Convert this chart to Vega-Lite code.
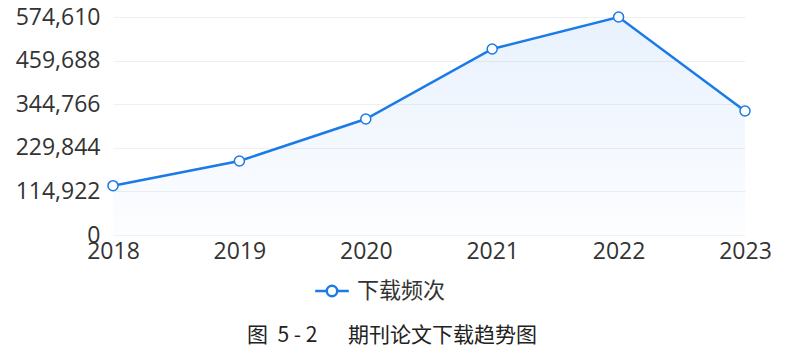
{
  "$schema": "https://vega.github.io/schema/vega-lite/v6.json",
  "width": 632,
  "height": 218,
  "autosize": {"type": "none"},
  "padding": {"left": 113, "top": 17, "right": 40, "bottom": 118},
  "background": "white",
  "config": {
    "view": {"stroke": null},
    "font": "Open Sans"
  },
  "title": {
    "text": "图\u00a0\u00a05\u00a0-\u00a02\u00a0\u00a0\u3000期刊论文下载趋势图",
    "orient": "bottom",
    "anchor": "middle",
    "dx": -37,
    "offset": 23,
    "fontSize": 21,
    "fontWeight": "normal",
    "color": "#222",
    "font": "Noto Sans CJK SC"
  },
  "data": {
    "values": [
      {"year": "2018", "downloads": 130000},
      {"year": "2019", "downloads": 195000},
      {"year": "2020", "downloads": 305800},
      {"year": "2021", "downloads": 490300},
      {"year": "2022", "downloads": 574610},
      {"year": "2023", "downloads": 326900}
    ]
  },
  "encoding": {
    "x": {
      "field": "year",
      "type": "ordinal",
      "scale": {"type": "point", "padding": 0},
      "axis": {
        "title": null,
        "labelAngle": 0,
        "domain": false,
        "ticks": false,
        "labelFont": "Open Sans",
        "labelFontSize": 23,
        "labelColor": "#333",
        "labelPadding": 5,
        "grid": false
      }
    },
    "y": {
      "field": "downloads",
      "type": "quantitative",
      "scale": {"domain": [0, 574610], "nice": false},
      "axis": {
        "title": null,
        "values": [0, 114922, 229844, 344766, 459688, 574610],
        "format": ",d",
        "domain": false,
        "ticks": false,
        "labelFont": "Open Sans",
        "labelFontSize": 23,
        "labelColor": "#333",
        "labelPadding": 13,
        "gridColor": "#f0f0f0",
        "gridWidth": 1
      }
    }
  },
  "layer": [
    {
      "mark": {
        "type": "area",
        "fill": {
          "gradient": "linear",
          "x1": 0, "y1": 0, "x2": 0, "y2": 1,
          "stops": [
            {"offset": 0, "color": "rgba(30,120,240,0.10)"},
            {"offset": 1, "color": "rgba(30,120,240,0.01)"}
          ]
        }
      }
    },
    {
      "mark": {"type": "line", "strokeWidth": 2.5},
      "encoding": {
        "color": {
          "datum": "下载频次",
          "scale": {"range": ["#1a7ae8"]},
          "legend": {
            "title": null,
            "orient": "none",
            "legendX": 207,
            "legendY": 262,
            "labelFont": "Noto Sans CJK SC",
            "labelFontSize": 22,
            "labelColor": "#333",
            "symbolType": "M -1.6 0 L -0.5 0 M 0.5 0 L 1.6 0 M -0.5 0 A 0.5 0.5 0 1 0 0.5 0 A 0.5 0.5 0 1 0 -0.5 0",
            "symbolSize": 440,
            "symbolStrokeWidth": 2.5,
            "symbolStrokeColor": "#1a7ae8",
            "symbolFillColor": "white",
            "labelOffset": 13
          }
        }
      }
    },
    {
      "mark": {"type": "point", "filled": true, "fill": "white", "stroke": "#1a7ae8", "strokeWidth": 1.5, "size": 100, "opacity": 1}
    }
  ]
}
